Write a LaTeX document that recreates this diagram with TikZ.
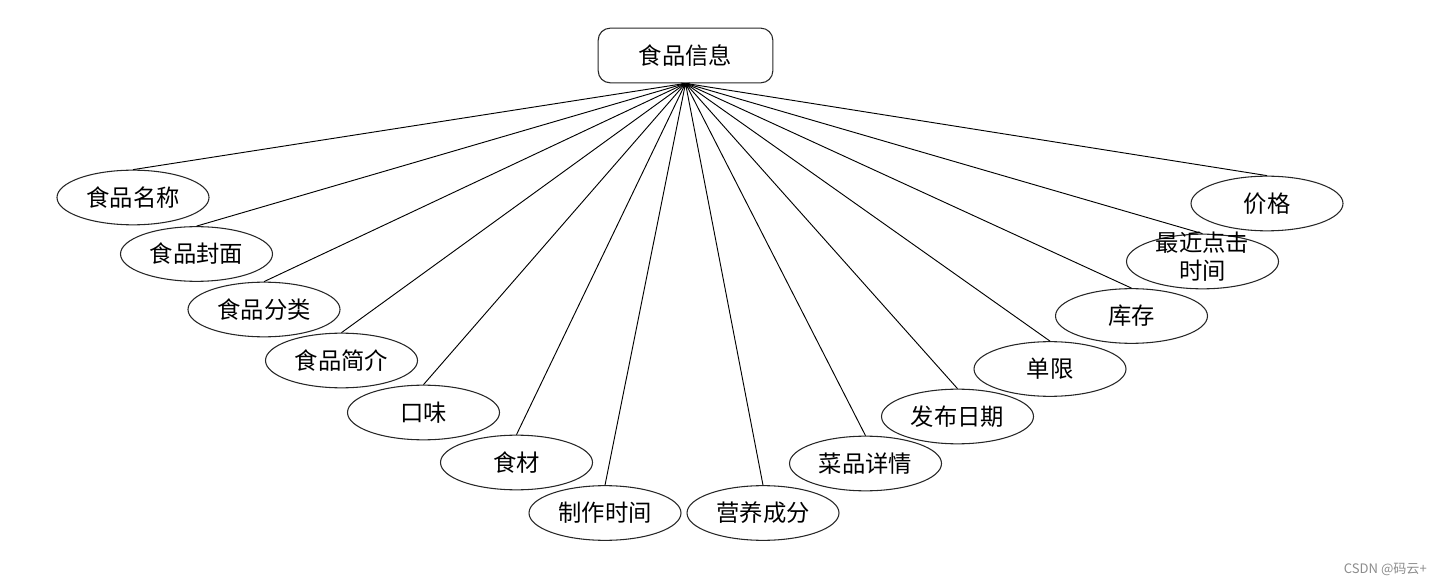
\documentclass[tikz,border=0pt]{standalone}
\usepackage{fontspec}
\setmainfont{Noto Sans CJK SC}
\usetikzlibrary{shapes.geometric,arrows.meta}
\tikzset{
  attr/.style={draw=black!85, line width=0.8pt, ellipse, minimum width=114pt, minimum height=41pt, inner sep=0pt, font=\fontsize{17.5}{20}\selectfont, align=center},
  entity/.style={draw=black!85, line width=0.8pt, rounded corners=9pt, minimum width=131pt, minimum height=41pt, inner sep=0pt, font=\fontsize{17.5}{20}\selectfont},
  link/.style={line width=0.7pt, -{Stealth[length=3pt,width=2pt]}}
}
\begin{document}
\begin{tikzpicture}[x=0.75pt,y=-0.75pt]
\useasboundingbox (0,0) rectangle (1441,584);
\node[entity] (top) at (685.5,55.5) {食品信息};
\node[attr] (a1) at (133,197.5) {食品名称};
\node[attr] (a2) at (196.5,254) {食品封面};
\node[attr] (a3) at (264,309.5) {食品分类};
\node[attr] (a4) at (341.5,360.5) {食品简介};
\node[attr] (a5) at (423.5,412.5) {口味};
\node[attr] (a6) at (516.5,462.5) {食材};
\node[attr] (a7) at (605,513) {制作时间};
\node[attr] (a8) at (763,513) {营养成分};
\node[attr] (a9) at (865.5,463.5) {菜品详情};
\node[attr] (a10) at (957.5,416.5) {发布日期};
\node[attr] (a11) at (1050,369) {单限};
\node[attr] (a12) at (1131.5,316) {库存};
\node[attr, font=\fontsize{17.5}{19.5}\selectfont] (a13) at (1202.5,261.5) {\smash{\raisebox{-3pt}{\begin{tabular}{@{}c@{}}最近点击\\时间\end{tabular}}}};
\node[attr] (a14) at (1267,203.5) {价格};
\foreach \n in {a1,a2,a3,a4,a5,a6,a7,a8,a9,a10,a11,a12,a13,a14}
  \draw[link] (\n.north) -- (top.south);
\node[text=black!45, font=\fontsize{9.8}{11}\selectfont, anchor=east, inner sep=0pt] (wm) at (1427,569) {CSDN @码云+};
\end{tikzpicture}
\end{document}
